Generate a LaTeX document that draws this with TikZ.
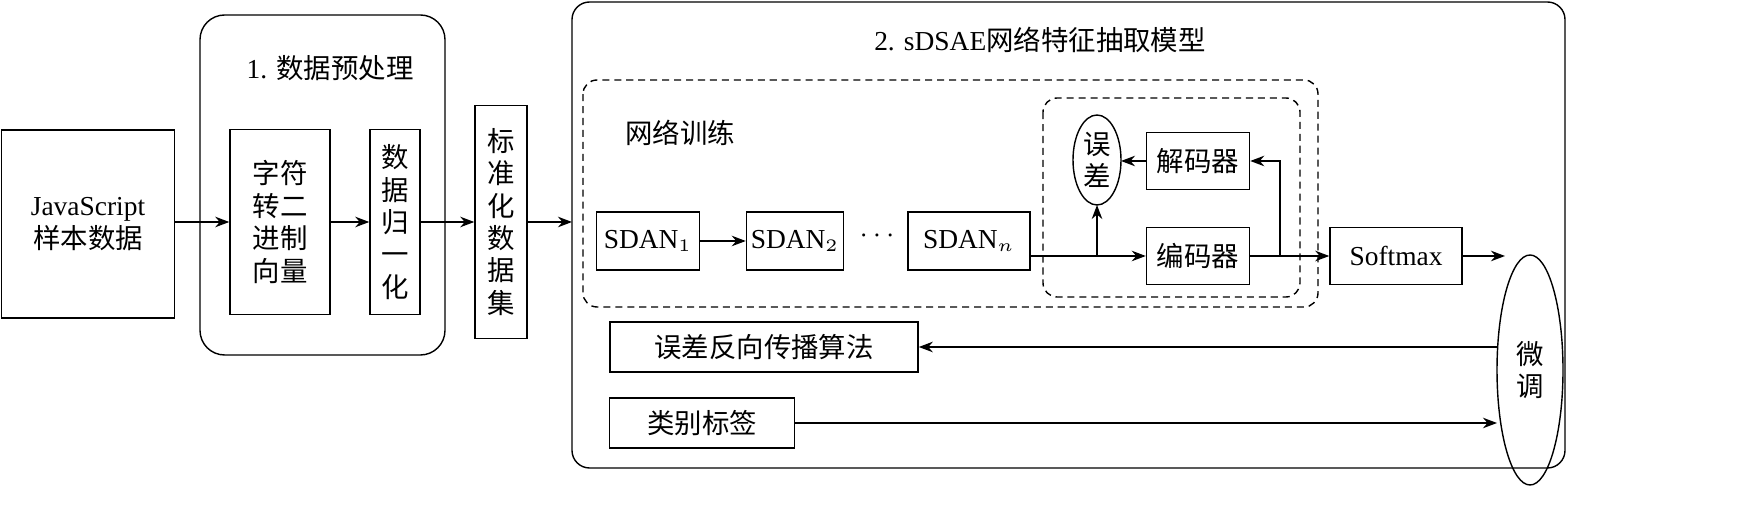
\documentclass[tikz,border=0pt]{standalone}
\usepackage{fontspec}
\setmainfont{Liberation Serif}
\newfontfamily\cjk{Noto Sans CJK SC}
\usetikzlibrary{arrows.meta}
\begin{document}
\begin{tikzpicture}[x=0.01cm,y=-0.01cm,
  font=\fontsize{7.8}{9.2}\selectfont\cjk,
  box/.style={draw,line width=0.4pt,inner sep=0pt},
  arr/.style={-{Stealth[length=4pt,width=3pt]},line width=0.4pt},
  ln/.style={line width=0.4pt}]
\useasboundingbox (0,0) rectangle (1739,522);
% Groups
\draw[ln,rounded corners=7] (200,15) rectangle (445,355);
\node at (330,68) {\rmfamily 1. \cjk 数据预处理};
\draw[ln,rounded corners=5] (572,2) rectangle (1565,468);
\node at (1040,40) {\rmfamily 2. sDSAE\cjk 网络特征抽取模型};
\draw[ln,dash pattern=on 2pt off 1.4pt,rounded corners=4] (583,80) rectangle (1318,307);
\draw[ln,dash pattern=on 2pt off 1.4pt,rounded corners=4] (1043,98) rectangle (1300,297);
\node at (680,133) {网络训练};

% Boxes
\node[box,minimum width=1.73cm,minimum height=1.88cm,align=center] (js) at (88,224) {\rmfamily JavaScript\\\cjk 样本数据};
\node[box,minimum width=1.0cm,minimum height=1.85cm,align=center] (bin) at (280,222) {字符\\转二\\进制\\向量};
\node[box,minimum width=0.5cm,minimum height=1.85cm,align=center] (norm) at (395,222) {数\\据\\归\\一\\化};
\node[box,minimum width=0.52cm,minimum height=2.33cm,align=center] (std) at (501,222) {标\\准\\化\\数\\据\\集};
\node[box,minimum width=1.03cm,minimum height=0.58cm] (s1) at (648,241) {\rmfamily SDAN$_1$};
\node[box,minimum width=0.97cm,minimum height=0.58cm] (s2) at (795,241) {\rmfamily SDAN$_2$};
\node (dots) at (877,236) {\rmfamily$\cdots$};
\node[box,minimum width=1.22cm,minimum height=0.58cm] (sn) at (969,241) {\rmfamily SDAN$_n$};
\node[box,minimum width=1.03cm,minimum height=0.57cm] (dec) at (1198,161) {解码器};
\node[box,minimum width=1.03cm,minimum height=0.57cm] (enc) at (1198,256) {编码器};
\node[box,minimum width=1.32cm,minimum height=0.57cm] (soft) at (1396,256) {\rmfamily Softmax};
\draw[ln] (1097,160) ellipse (24 and 45);
\node[align=center,inner sep=0pt] (err) at (1097,160) {误\\差};
\coordinate (errb) at (1097,205);
\draw[ln] (1530,370) ellipse (33 and 115);
\node[align=center] (fine) at (1530,370) {微\\调};
\node[box,minimum width=3.08cm,minimum height=0.5cm] (bp) at (764,347) {误差反向传播算法};
\node[box,minimum width=1.85cm,minimum height=0.5cm] (lab) at (702,423) {类别标签};

% Connectors
\draw[arr] (js.east |- bin.west) -- (bin.west);
\draw[arr] (bin.east) -- (norm.west);
\draw[arr] (norm.east) -- (std.west);
\draw[arr] (std.east) -- (572,222);
\draw[arr] (s1) -- (s2);
\draw[arr] (sn.east |- enc.west) -- (enc.west);
\draw[arr] (1097,256) -- (errb);
\draw[arr] (dec.west) -- (1121,161);
\draw[arr] (enc.east) -- (1280,256) -- (1280,161) -- (dec.east);
\draw[arr] (1280,256) -- (soft.west);
\draw[arr] (soft.east) -- (1505,256);
\draw[arr] (1497,347) -- (bp.east);
\draw[arr] (lab.east) -- (1497,423);
\end{tikzpicture}
\end{document}
